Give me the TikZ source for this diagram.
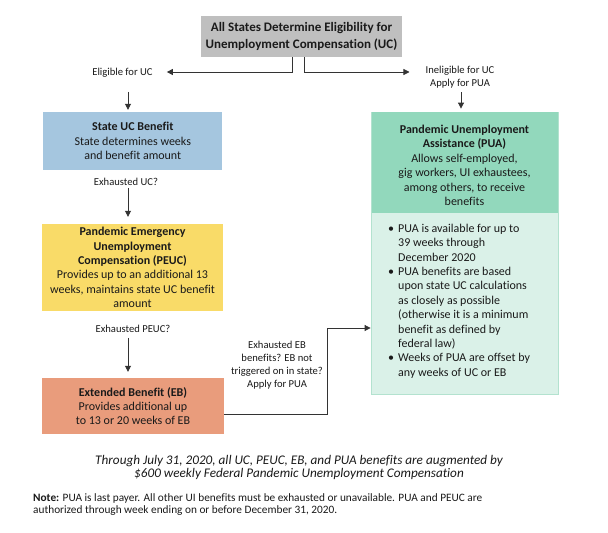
\documentclass[tikz,border=0pt]{standalone}
\usepackage{fontspec}
\setmainfont{Carlito}[Ligatures=NoCommon]
\usetikzlibrary{arrows.meta,calc}
\definecolor{cgray}{HTML}{BFBFBF}
\definecolor{cblue}{HTML}{A5C6DF}
\definecolor{cyel}{HTML}{F9DB68}
\definecolor{cor}{HTML}{E99C7C}
\definecolor{cgrn}{HTML}{92D8BC}
\definecolor{cltg}{HTML}{DAF1E8}
\definecolor{cbord}{HTML}{B3E2CF}
\definecolor{ctxt}{HTML}{1A1A1A}
\newcommand\fbody{\fontsize{12}{14.4}\selectfont}
\newcommand\fsmall{\fontsize{10.6}{12.8}\selectfont}
\newcommand\ftitle{\fontsize{13}{16.5}\selectfont\bfseries}
\newcommand\fital{\fontsize{13.2}{13.6}\selectfont\itshape}
\newcommand\fnote{\fontsize{11.3}{12}\selectfont}
\newcommand\bul{\makebox[10pt][l]{\textbullet}}
\newcommand\ind{\hspace*{10pt}}
\begin{document}
\begin{tikzpicture}[x=1pt,y=-1pt,
  box/.style={inner sep=0, align=center, font=\fbody, text=ctxt},
  lbl/.style={inner sep=2pt, align=center, font=\fsmall, text=ctxt},
  arr/.style={draw=black!80, line width=0.8pt, -{Triangle[length=6pt,width=6pt]}}]
\useasboundingbox[fill=white] (0,0) rectangle (608,533);
% boxes
\node[box, fill=cgray, minimum width=201, minimum height=41, font=\ftitle] (top) at (301.5,36.5)
  {All States Determine Eligibility for\\Unemployment Compensation (UC)};
\node[box, fill=cblue, minimum width=179, minimum height=58] (uc) at (132.8,141)
  {\textbf{State UC Benefit}\\State determines weeks\\and benefit amount};
\node[box, fill=cyel, minimum width=181, minimum height=87] (peuc) at (132.5,267.5)
  {\textbf{Pandemic Emergency}\\\textbf{Unemployment}\\\textbf{Compensation (PEUC)}\\Provides up to an additional 13\\weeks, maintains state UC benefit\\amount};
\node[box, fill=cor, minimum width=182, minimum height=56] (eb) at (133,406)
  {\textbf{Extended Benefit (EB)}\\Provides additional up\\to 13 or 20 weeks of EB};
\node[box, fill=cltg, draw=cbord, line width=0.8pt, minimum width=187, minimum height=282] (pua) at (464.5,253) {};
\node[box, fill=cgrn, minimum width=186, minimum height=101] (puah) at (464.5,162.5)
  {\rule{0pt}{14pt}\textbf{Pandemic Unemployment}\\\textbf{Assistance (PUA)}\\Allows self-employed,\\gig workers, UI exhaustees,\\among others, to receive\\benefits};
\node[box, anchor=west, align=left] (bul) at (388,301)
  {\bul PUA is available for up to\\\ind 39 weeks through\\\ind December 2020\\
   \bul PUA benefits are based\\\ind upon state UC calculations\\\ind as closely as possible\\
   \ind (otherwise it is a minimum\\\ind benefit as defined by\\\ind federal law)\\
   \bul Weeks of PUA are offset by\\\ind any weeks of UC or EB};
% labels
\node[lbl] (elig) at (122.5,73) {Eligible for UC};
\node[lbl] (inel) at (460,77.5) {Ineligible for UC\\Apply for PUA};
\node[lbl] (exuc) at (126,182) {Exhausted UC?};
\node[lbl] (expeuc) at (133,329) {Exhausted PEUC?};
\node[lbl] (exeb) at (277,365) {Exhausted EB\\benefits? EB not\\triggered on in state?\\Apply for PUA};
\node[inner sep=0, align=center, font=\fital, text=ctxt] (aug) at (299,467.5)
  {Through July 31, 2020, all UC, PEUC, EB, and PUA benefits are augmented by\\\$600 weekly Federal Pandemic Unemployment Compensation};
\node[inner sep=0, anchor=west, align=left, font=\fnote, text=ctxt] (note) at (33,505)
  {\textbf{Note:} PUA is last payer. All other UI benefits must be exhausted or unavailable. PUA and PEUC are\\authorized through week ending on or before December 31, 2020.};
% connectors
\draw[arr] ($(top.south)+(-8.8,0)$) |- ($(elig.east)+(12,-1)$);
\draw[arr] ($(top.south)+(2.5,0)$) |- ($(inel.west)+(-14,-5.5)$);
\draw[arr] ($(elig.south)+(5.5,12)$) -- ($(elig.south |- uc.north)+(5.5,-2)$);
\draw[arr] ($(exuc.south)+(2,0)$) -- ($(exuc.south |- peuc.north)+(2,-7)$);
\draw[arr] ($(expeuc.south)+(-5,3)$) -- ($(expeuc.south |- eb.north)+(-5,-6)$);
\draw[arr] ($(inel.south)+(1,1.5)$) -- ($(inel.south |- pua.north)+(1,-3)$);
\draw[arr] ($(eb.east)+(0,8)$) -| ($(pua.west)+(-43,75)$) -- ($(pua.west)+(0,75)$);
\end{tikzpicture}
\end{document}
